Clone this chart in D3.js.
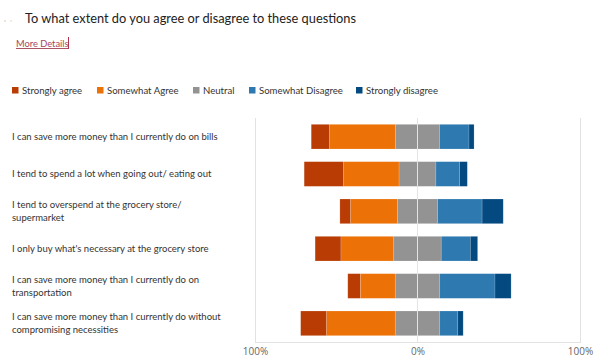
<!DOCTYPE html>
<html><head><meta charset="utf-8">
<script src="https://cdn.jsdelivr.net/npm/d3@7"></script>
<style>
body{margin:0;background:#fff;}
svg{display:block;font-family:Lato,"Open Sans",sans-serif;}
</style></head>
<body><svg id="c" width="596" height="364"></svg>
<script>
const categories = [
  "I can save more money than I currently do on bills",
  "I tend to spend a lot when going out/ eating out",
  "I tend to overspend at the grocery store/\nsupermarket",
  "I only buy what's necessary at the grocery store",
  "I can save more money than I currently do on\ntransportation",
  "I can save more money than I currently do without\ncompromising necessities"
];
const seriesNames = ["Strongly agree","Somewhat Agree","Neutral","Somewhat Disagree","Strongly disagree"];
const stronglyAgree    = [11.1, 24.3, 6.6, 15.9, 7.8, 16.0];
const somewhatAgree    = [40.7, 34.1, 28.8, 32.5, 21.4, 42.2];
const neutral          = [27.2, 22.7, 24.7, 29.2, 27.4, 27.4];
const somewhatDisagree = [18.1, 14.6, 27.4, 17.9, 34.0, 11.1];
const stronglyDisagree = [3.1, 4.7, 13.0, 4.5, 9.9, 3.3];
const tickValues = [-100, 0, 100];
const tickLabels = ["100%", "0%", "100%"];
const colors = ["#b93c05","#ec7106","#939393","#2e79b0","#044a81"];

const svg = d3.select("#c");
const X0 = 255, X1 = 580, Y0 = 118, Y1 = 342;
const x = d3.scaleLinear().domain([-100,100]).range([X0,X1]);
const y = d3.scaleBand().domain(categories).range([Y0,Y1]).paddingInner(0.34).paddingOuter(0.17);
const color = d3.scaleOrdinal().domain(seriesNames).range(colors);

// title
svg.append("circle").attr("cx",5).attr("cy",21).attr("r",1).attr("fill","#eadcc8");
svg.append("circle").attr("cx",11).attr("cy",21).attr("r",1).attr("fill","#ece4da");
svg.append("text").attr("x",25).attr("y",23).attr("font-size",12.8).attr("fill","#222")
  .text("To what extent do you agree or disagree to these questions");
svg.append("text").attr("x",16).attr("y",47).attr("font-size",9.3).attr("fill","#a8465a")
  .attr("text-decoration","underline").text("More Details");
svg.append("line").attr("x1",68.5).attr("x2",68.5).attr("y1",37).attr("y2",49).attr("stroke","#b03050").attr("stroke-width",1);

// legend
const legendX = [12, 97, 193, 249, 356];
const lg = svg.append("g").selectAll("g").data(seriesNames).join("g")
  .attr("transform",(d,i)=>`translate(${legendX[i]},87)`);
lg.append("rect").attr("width",6.5).attr("height",6.5).attr("fill",d=>color(d));
lg.append("text").attr("x",10).attr("y",7).attr("font-size",9.6).attr("fill","#333").text(d=>d);

// frame
const frame = svg.append("g").attr("stroke","#e2e2e2").attr("stroke-width",1);
frame.append("line").attr("x1",X0+0.5).attr("x2",X0+0.5).attr("y1",Y0).attr("y2",Y1);
frame.append("line").attr("x1",X1+0.5).attr("x2",X1+0.5).attr("y1",Y0).attr("y2",Y1);
frame.append("line").attr("x1",X0).attr("x2",X1+1).attr("y1",Y1+0.5).attr("y2",Y1+0.5);

// stacked diverging data
const rows = categories.map((c,i)=>{
  const vals = [stronglyAgree[i], somewhatAgree[i], neutral[i], somewhatDisagree[i], stronglyDisagree[i]];
  let start = -(vals[0]+vals[1]+vals[2]/2);
  return vals.map((v,k)=>{ const s = start; start += v; return {cat:c, key:seriesNames[k], x0:s, x1:start}; });
}).flat();

svg.append("g").selectAll("rect").data(rows).join("rect")
  .attr("x",d=>x(d.x0)).attr("width",d=>x(d.x1)-x(d.x0))
  .attr("y",d=>y(d.cat)).attr("height",y.bandwidth())
  .attr("fill",d=>color(d.key))
  .attr("stroke","rgba(255,255,255,0.25)").attr("stroke-width",0.6);

// zero line
svg.append("line").attr("x1",x(0)).attr("x2",x(0)).attr("y1",Y0).attr("y2",Y1)
  .attr("stroke","#e4e4e4").attr("stroke-width",1);

// x axis
const xAxis = d3.axisBottom(x).tickValues(tickValues).tickFormat((d,i)=>tickLabels[i]).tickSize(0).tickPadding(6);
const xa = svg.append("g").attr("transform",`translate(0,${Y1})`).call(xAxis);
xa.select(".domain").remove();
xa.selectAll("text").attr("font-size",10).attr("fill","#666").attr("font-family","'Open Sans',sans-serif");

// y labels
const yl = svg.append("g").selectAll("text").data(categories).join("text")
  .attr("x",12).attr("font-size",9.5).attr("fill","#333");
yl.each(function(d){
  const lines = d.split("\n");
  const cy = y(d) + y.bandwidth()/2;
  const lh = 13.5;
  const t = d3.select(this);
  lines.forEach((ln,j)=>{
    t.append("tspan").attr("x",12).attr("y", cy + (j-(lines.length-1)/2)*lh + 3.4).text(ln);
  });
});
</script></body></html>
